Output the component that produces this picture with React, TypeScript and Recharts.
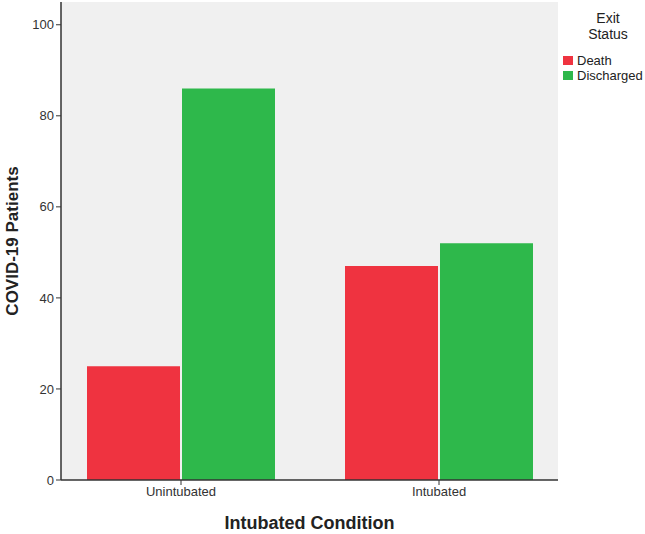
import { BarChart, Bar, XAxis, YAxis, CartesianGrid } from 'recharts';

const conditions = ['Unintubated', 'Intubated'];
const deaths = [25, 47];
const discharged = [86, 52];
const yTicks = [0, 20, 40, 60, 80, 100];

const data = conditions.map((c, i) => ({ name: c, death: deaths[i], discharged: discharged[i] }));

const FONT = '"Liberation Sans", Arial, sans-serif';

const ExitLegend = () => (
  <div style={{ position: 'absolute', left: 558, top: 0, width: 87, fontFamily: FONT, fontSize: 13, color: '#222' }}>
    <div style={{ textAlign: 'center', fontSize: 14, lineHeight: '16px', paddingLeft: 13, marginTop: 10 }}>
      Exit
      <br />
      Status
    </div>
    <div style={{ marginTop: 11, marginLeft: 5 }}>
      {[
        { label: 'Death', color: '#EF3340' },
        { label: 'Discharged', color: '#2EB84B' }
      ].map((item) => (
        <div key={item.label} style={{ display: 'flex', alignItems: 'center', height: 15 }}>
          <div style={{ width: 10, height: 9, background: item.color, marginRight: 4 }} />
          <span>{item.label}</span>
        </div>
      ))}
    </div>
  </div>
);

export default function App() {
  return (
    <div style={{ position: 'absolute', left: 0, top: 0, width: 645, height: 534, background: '#fff' }}>
      <BarChart
        width={645}
        height={534}
        data={data}
        margin={{ top: 2, right: 87, bottom: 0, left: 0 }}
        barGap={2}
        barSize={93}
      >
        <CartesianGrid fill="#F0F0F0" horizontal={false} vertical={false} />
        <XAxis
          dataKey="name"
          padding={{ left: -9, right: -10 }}
          tick={{ fontSize: 13, fill: '#333', fontFamily: FONT }}
          tickLine={{ stroke: '#333' }}
          tickSize={5}
          axisLine={{ stroke: '#333', strokeWidth: 1.5 }}
          height={54}
          label={{
            value: 'Intubated Condition',
            position: 'insideBottom',
            offset: 5,
            style: { fontSize: 18, fontWeight: 'bold', fill: '#222', fontFamily: FONT }
          }}
        />
        <XAxis xAxisId="top" orientation="top" tick={false} tickLine={false} height={0} axisLine={{ stroke: '#999' }} />
        <YAxis
          domain={[0, 105]}
          ticks={yTicks}
          width={61}
          tick={{ fontSize: 13, fill: '#333', fontFamily: FONT }}
          tickLine={{ stroke: '#333' }}
          tickSize={5}
          axisLine={{ stroke: '#333', strokeWidth: 1.5 }}
          label={{
            value: 'COVID-19 Patients',
            angle: -90,
            position: 'insideLeft',
            offset: 12,
            style: { fontSize: 17, fontWeight: 'bold', fill: '#222', fontFamily: FONT, textAnchor: 'middle' }
          }}
        />
        <YAxis yAxisId="right" orientation="right" tick={false} tickLine={false} width={0} axisLine={{ stroke: '#999' }} />
        <Bar dataKey="death" fill="#EF3340" isAnimationActive={false} />
        <Bar dataKey="discharged" fill="#2EB84B" isAnimationActive={false} />
      </BarChart>
      <ExitLegend />
    </div>
  );
}
